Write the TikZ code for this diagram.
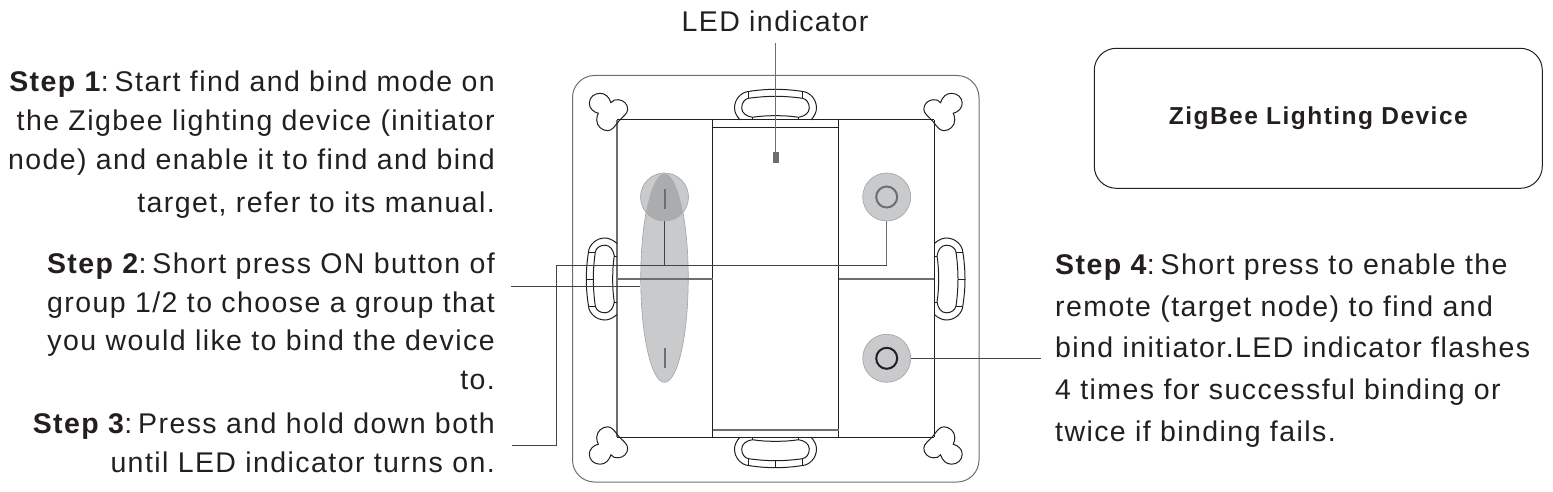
\documentclass[tikz,border=0pt]{standalone}
\usepackage{fontspec}
\setmainfont[LetterSpace=5,RawFeature=-liga]{Liberation Sans}
\usepackage{tikz}
\usetikzlibrary{shapes.geometric,positioning}
\definecolor{btngray}{HTML}{C9CACC}
\definecolor{btndark}{HTML}{ABACAE}
\definecolor{edgegray}{HTML}{6D6E71}
\definecolor{inkblack}{HTML}{231F20}
\newcommand{\stepname}[1]{\textbf{Step #1}\kern-1pt:\kern-3.5pt\ }
\tikzset{step text/.style={anchor=base east, inner sep=0pt, text=inkblack, font=\fontsize{28.5}{30}\selectfont}}
\tikzset{note text/.style={step text, anchor=base west}}
\tikzset{regular line/.style={draw=inkblack, line width=1pt}}
\tikzset{lead line/.style={draw=inkblack!85, line width=1pt}}
\tikzset{gray edge/.style={draw=edgegray, line width=1.5pt}}
\tikzset{button node/.style={circle, fill=btngray, draw=btngray!80!black, line width=0.6pt, minimum size=48pt, inner sep=0pt}}
\tikzset{tick mark/.style={draw=edgegray, line width=2pt}}
\tikzset{slot/.pic={
    \draw [regular line] (-35.5,0) .. controls (-39,-4) and (-41,-8) .. (-41,-12) .. controls (-41,-21) and (-34,-28) .. (-27,-28.5) .. controls (-18,-30) and (-8,-30.7) .. (0,-30.7) .. controls (8,-30.7) and (18,-30) .. (27,-28.5) .. controls (34,-28) and (41,-21) .. (41,-12) .. controls (41,-8) and (39,-4) .. (35.5,0);
    \draw [regular line] (-23,-2.7) .. controls (-29,-3.5) and (-33.8,-7) .. (-33.8,-12) .. controls (-33.8,-17) and (-31,-21) .. (-27,-21.7) .. controls (-18,-23) and (-8,-23.7) .. (0,-23.7) .. controls (8,-23.7) and (18,-23) .. (27,-21.7) .. controls (31,-21) and (33.8,-17) .. (33.8,-12) .. controls (33.8,-7) and (29,-3.5) .. (23,-2.7) .. controls (15,-4) and (8,-4.3) .. (0,-4.3) .. controls (-8,-4.3) and (-15,-4) .. cycle;
    \draw [regular line] (-27,-28.5) -- (-27,-21.7) (27,-28.5) -- (27,-21.7) (0,-30.7) -- (0,-23.7) (-23,-2.7) -- (-23,0) (23,-2.7) -- (23,0);
}}
\tikzset{keyhole/.pic={
    \draw [regular line] (1,-9.3) .. controls (3,-12) and (5,-12.5) .. (8.3,-12.3) .. controls (13.5,-12) and (17.7,-8) .. (17.7,-2.7) .. controls (17.7,2) and (12,5) .. (8.3,9.7) .. controls (5,14) and (2,18.7) .. (-2.3,18.7) .. controls (-8,18.7) and (-13.3,14) .. (-13.3,8) .. controls (-13.3,5) and (-12.5,3) .. (-11.7,1.3) .. controls (-17,0) and (-20.7,-4) .. (-20.7,-8.7) .. controls (-20.7,-14.5) and (-16,-18.7) .. (-10,-18.7) .. controls (-4.5,-18.7) and (-1,-15) .. cycle;
}}

\begin{document}
\begin{tikzpicture}
      [x=1pt, y=-1pt]
      \useasboundingbox (0,0) rectangle (1553,492);

      % buttons
      \node [ellipse, fill=btngray, draw=btngray!80!black, line width=0.6pt, minimum width=47.5pt, minimum height=208.6pt, inner sep=0pt] (bothbtn) at (664.5,278) {};
      \node [button node] (onbtn)   at (664.5,197) {};
      \node [button node] (groupbtn) at (886.7,197) {};
      \node [button node] (findbtn) at (886.7,358.3) {};
      \begin{scope}
        \clip (664.5,197) circle (24);
        \fill [btndark] (664.5,278) ellipse [x radius=23.7, y radius=104.3];
      \end{scope}
      \draw [tick mark] (664.5,189) -- (664.5,209);
      \draw [tick mark] (664.5,348) -- (664.5,368);
      \node [circle, draw=edgegray, line width=2pt, minimum size=21pt, inner sep=0pt] (groupring) at (886.7,197) {};
      \node [circle, draw=inkblack, line width=2pt, minimum size=21pt, inner sep=0pt] (findring) at (886.7,358.3) {};

      % housing
      \draw [gray edge, line width=1pt, rounded corners=22pt] (572.5,75.5) rectangle (979,482);
      \draw [regular line] (617,120) -- (934.3,120);
      \draw [regular line] (617,437) -- (934.3,437);
      \draw [gray edge] (617,120) -- (617,437);
      \draw [regular line] (934.3,120) -- (934.3,437);
      \draw [regular line] (712.5,120) -- (712.5,437);
      \draw [regular line] (838.7,120) -- (838.7,437);
      \draw [regular line] (712.5,127.3) -- (838.7,127.3);
      \draw [gray edge] (712.5,430) -- (838.7,430);
      \draw [gray edge, line width=2pt] (617,278.8) -- (712.5,278.8);
      \draw [gray edge, line width=2pt] (838.7,278.8) -- (934.3,278.8);
      \pic at (775.5,120) {slot};
      \pic [rotate=180] at (775.5,437) {slot};
      \pic [rotate=90] at (617,279) {slot};
      \pic [rotate=-90] at (934.3,279) {slot};
      \pic at (610,112) {keyhole};
      \pic [xscale=-1] at (941.5,112) {keyhole};
      \pic [yscale=-1] at (610,445.5) {keyhole};
      \pic [xscale=-1, yscale=-1] at (941.5,445.5) {keyhole};

      % led
      \node [rectangle, fill=edgegray, minimum width=6pt, minimum height=11pt, inner sep=0pt] (led) at (776,157.5) {};
      \coordinate (ledtop) at (775,43);
      \draw [lead line, draw=edgegray] (ledtop) -- (ledtop |- led.north);

      % lead lines
      \coordinate (step2end)  at (511,286.3);
      \coordinate (step3end)  at (512,445);
      \coordinate (step3bend) at (556,445);
      \coordinate (step3top)  at (556,265.3);
      \coordinate (groupbend) at (886.7,265.3);
      \coordinate (step4end)  at (1040.7,358.3);
      \draw [lead line] (step2end) -- (step2end -| bothbtn.west);
      \draw [lead line] (step3end) -- (step3bend) -- (step3top) -- (groupbend);
      \draw [lead line, draw=edgegray] (groupbend) -- (groupbtn.south);
      \draw [lead line] (onbtn.south) -- (onbtn.south |- step3top);
      \draw [lead line] (findbtn.east) -- (step4end);

      % texts
      \node [step text, anchor=base] (ledtext) at (775,31.7) {LED indicator};
      \node [step text] (s1a) at (495,91.7)  {\stepname{1}Start find and bind mode on};
      \node [step text] (s1b) at (495,130.7) {the Zigbee lighting device (initiator};
      \node [step text] (s1c) at (495,169.3) {node) and enable it to find and bind};
      \node [step text] (s1d) at (495,212.7) {target, refer to its manual.};
      \node [step text] (s2a) at (495,273.3) {\stepname{2}Short press ON button of};
      \node [step text] (s2b) at (495,312.7) {group 1/2 to choose a group that};
      \node [step text] (s2c) at (495,350.7) {you would like to bind the device};
      \node [step text] (s2d) at (495,389)   {to.};
      \node [step text] (s3a) at (495,433.3) {\stepname{3}Press and hold down both};
      \node [step text] (s3b) at (495,472.7) {until LED indicator turns on.};
      \node [note text] (s4a) at (1055,274.3) {\stepname{4}Short press to enable the};
      \node [note text] (s4b) at (1055,316)   {remote (target node) to find and};
      \node [note text] (s4c) at (1055,357.7) {bind initiator.LED indicator flashes};
      \node [note text] (s4d) at (1055,399.3) {4 times for successful binding or};
      \node [note text] (s4e) at (1055,441)   {twice if binding fails.};

      % device box
      \node [regular line, draw, rounded corners=22pt, minimum width=448pt, minimum height=140pt, inner sep=0pt] (devicebox) at (1318.3,118.3) {};
      \node [step text, anchor=base, font=\fontsize{24.5}{26}\selectfont\bfseries\addfontfeatures{LetterSpace=6}] (devicetext) at (1318.3,124.3) {ZigBee Lighting Device};
\end{tikzpicture}
\end{document}
